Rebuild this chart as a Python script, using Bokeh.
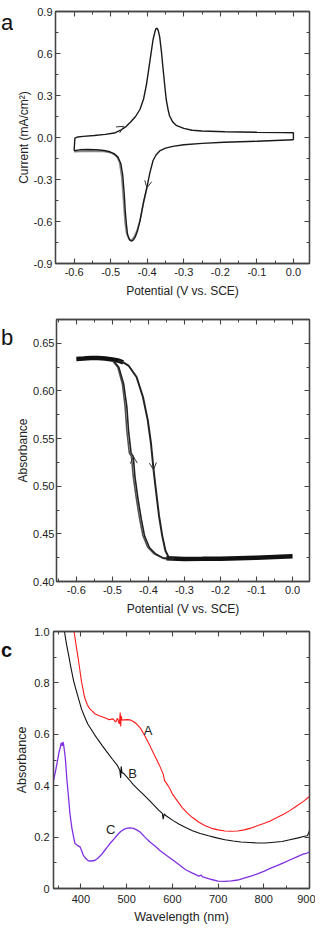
from bokeh.plotting import figure
from bokeh.layouts import column, row
from bokeh.models import (LinearAxis, FixedTicker, Arrow, OpenHead, Range1d,
                          PrintfTickFormatter, CustomLabelingPolicy)
from bokeh.core.properties import value
from bokeh.embed import file_html
from bokeh.resources import INLINE

# ---------------- data: panel a (cyclic voltammogram) ----------------
cv_fwd_x = [-0.600, -0.598, -0.590, -0.575, -0.545, -0.515, -0.490, -0.473, -0.458, -0.446, -0.432,
            -0.420, -0.410, -0.402, -0.393, -0.384, -0.379, -0.376, -0.373, -0.370, -0.366, -0.361,
            -0.357, -0.352, -0.348, -0.343, -0.339, -0.330, -0.321, -0.300, -0.277, -0.250, -0.187,
            -0.100, -0.030, 0.000, 0.000]
cv_fwd_y = [-0.095, -0.004, 0.004, 0.008, 0.014, 0.022, 0.032, 0.052, 0.078, 0.109, 0.150,
            0.200, 0.275, 0.380, 0.540, 0.700, 0.755, 0.778, 0.780, 0.765, 0.720, 0.610,
            0.500, 0.370, 0.270, 0.200, 0.155, 0.110, 0.087, 0.065, 0.052, 0.046, 0.041,
            0.037, 0.035, 0.034, -0.016]
cv_rev_x = [0.000, -0.100, -0.190, -0.250, -0.300, -0.330, -0.350, -0.366, -0.376, -0.384, -0.393,
            -0.400, -0.410, -0.420, -0.427, -0.433, -0.439, -0.444, -0.449, -0.454, -0.457, -0.460,
            -0.463, -0.467, -0.472, -0.480, -0.491, -0.505, -0.518, -0.540, -0.563, -0.585, -0.600]
cv_rev_y = [-0.016, -0.027, -0.034, -0.042, -0.052, -0.063, -0.076, -0.096, -0.125, -0.164, -0.255,
            -0.346, -0.460, -0.597, -0.670, -0.712, -0.735, -0.740, -0.728, -0.690, -0.620, -0.530,
            -0.400, -0.270, -0.190, -0.140, -0.115, -0.100, -0.093, -0.088, -0.086, -0.088, -0.095]
cv2_x = [-0.400, -0.410, -0.420, -0.428, -0.435, -0.441, -0.447, -0.452, -0.457, -0.461, -0.465,
         -0.470, -0.476, -0.485, -0.500, -0.520, -0.550, -0.580, -0.600]
cv2_y = [-0.350, -0.465, -0.595, -0.665, -0.705, -0.728, -0.732, -0.715, -0.680, -0.600, -0.450,
         -0.280, -0.175, -0.130, -0.108, -0.100, -0.097, -0.099, -0.102]
a_arrow_x0 = [-0.478, -0.393]
a_arrow_y0 = [0.058, -0.255]
a_arrow_x1 = [-0.464, -0.401]
a_arrow_y1 = [0.080, -0.360]

# ---------------- data: panel b (absorbance vs potential) ----------------
b_plateau_x = [-0.600, -0.580, -0.560, -0.540, -0.520, -0.500, -0.485, -0.470]
b_plateau_y = [0.6336, 0.6340, 0.6345, 0.6345, 0.6340, 0.6330, 0.6320, 0.6300]
b_base_x = [-0.350, -0.300, -0.250, -0.200, -0.150, -0.100, -0.050, 0.000]
b_base_y = [0.4245, 0.4237, 0.4238, 0.4240, 0.4245, 0.4250, 0.4258, 0.4265]
b_fwd_x = [-0.485, -0.470, -0.4553, -0.4329, -0.4151, -0.4018, -0.3929, -0.3857, -0.3793,
           -0.3705, -0.3616, -0.3527, -0.3437, -0.3300]
b_fwd_y = [0.6320, 0.6300, 0.6267, 0.6146, 0.5937, 0.5694, 0.5451, 0.5173, 0.4965,
           0.4688, 0.4479, 0.4323, 0.4253, 0.4240]
b_rev1_x = [-0.330, -0.357, -0.3795, -0.3973, -0.4107, -0.4196, -0.4286, -0.4375, -0.4420,
            -0.4481, -0.4553, -0.4598, -0.4688, -0.4821, -0.4950]
b_rev1_y = [0.4240, 0.4243, 0.4288, 0.4357, 0.4479, 0.4652, 0.4860, 0.5104, 0.5313,
            0.5347, 0.5590, 0.5833, 0.6076, 0.6250, 0.6310]
b_rev2_x = [-0.330, -0.360, -0.3840, -0.4020, -0.4150, -0.4240, -0.4330, -0.4420, -0.4470,
            -0.4530, -0.4600, -0.4645, -0.4720, -0.4850, -0.4980]
b_rev2_y = [0.4240, 0.4245, 0.4290, 0.4360, 0.4480, 0.4650, 0.4860, 0.5100, 0.5310,
            0.5350, 0.5590, 0.5830, 0.6070, 0.6250, 0.6310]
b_arrow_x0 = [-0.3929, -0.4375]
b_arrow_y0 = [0.5451, 0.5104]
b_arrow_x1 = [-0.3857, -0.4420]
b_arrow_y1 = [0.5173, 0.5313]

# ---------------- data: panel c (spectra) ----------------
c_A_x = [385, 390, 394, 401, 408, 414, 419, 425, 430, 440, 451, 462, 470, 476, 480, 484, 486, 487,
         488, 490, 494, 501, 508, 515, 522, 530, 537, 544, 551, 558, 565, 572, 580, 583, 587, 594,
         601, 612, 622, 633, 644, 658, 672, 686, 700, 715, 729, 743, 757, 772, 786, 800, 814, 829,
         843, 857, 871, 886, 900]
c_A_y = [1.000, 0.940, 0.896, 0.808, 0.744, 0.715, 0.700, 0.690, 0.680, 0.672, 0.665, 0.657, 0.660,
         0.648, 0.662, 0.640, 0.685, 0.630, 0.672, 0.655, 0.656, 0.657, 0.656, 0.650, 0.640, 0.624,
         0.603, 0.580, 0.555, 0.529, 0.504, 0.478, 0.445, 0.420, 0.410, 0.390, 0.365, 0.338, 0.314,
         0.293, 0.276, 0.258, 0.244, 0.234, 0.228, 0.224, 0.223, 0.224, 0.228, 0.235, 0.244, 0.253,
         0.263, 0.276, 0.289, 0.303, 0.320, 0.338, 0.358]
c_B_x = [364, 368, 373, 378, 384, 389, 394, 401, 408, 415, 423, 430, 437, 447, 458, 469, 480, 485,
         487, 488, 490, 494, 505, 515, 526, 537, 548, 558, 570, 578, 580, 582, 587, 601, 615, 629,
         644, 661, 679, 697, 715, 733, 750, 768, 786, 804, 822, 840, 857, 873, 889, 895, 898, 900]
c_B_y = [1.000, 0.955, 0.909, 0.860, 0.808, 0.775, 0.744, 0.700, 0.668, 0.640, 0.618, 0.598, 0.580,
         0.555, 0.529, 0.503, 0.478, 0.460, 0.430, 0.475, 0.450, 0.447, 0.425, 0.403, 0.384, 0.365,
         0.346, 0.327, 0.305, 0.292, 0.270, 0.290, 0.282, 0.265, 0.250, 0.237, 0.225, 0.214, 0.205,
         0.197, 0.190, 0.185, 0.181, 0.179, 0.177, 0.177, 0.180, 0.183, 0.190, 0.196, 0.203, 0.205,
         0.215, 0.225]
c_C_x = [337, 340, 344, 348, 352, 355, 357, 359, 361, 362, 364, 366, 369, 373, 376, 380, 384, 387,
         392, 398, 402, 405, 410, 416, 422, 430, 437, 444, 451, 458, 465, 473, 480, 487, 494, 501,
         508, 515, 522, 530, 540, 551, 562, 572, 586, 601, 615, 629, 644, 658, 663, 666, 672, 686,
         700, 715, 729, 743, 757, 772, 786, 800, 814, 829, 843, 857, 871, 886, 895, 900]
c_C_y = [0.380, 0.420, 0.453, 0.490, 0.530, 0.550, 0.567, 0.555, 0.570, 0.561, 0.535, 0.504, 0.430,
         0.352, 0.290, 0.238, 0.200, 0.175, 0.168, 0.162, 0.145, 0.130, 0.118, 0.108, 0.107, 0.109,
         0.118, 0.130, 0.146, 0.162, 0.178, 0.194, 0.209, 0.222, 0.230, 0.235, 0.236, 0.234, 0.228,
         0.219, 0.200, 0.181, 0.165, 0.149, 0.130, 0.111, 0.092, 0.073, 0.060, 0.048, 0.052, 0.045,
         0.042, 0.035, 0.029, 0.028, 0.030, 0.033, 0.040, 0.048, 0.057, 0.067, 0.078, 0.089, 0.100,
         0.111, 0.122, 0.134, 0.138, 0.143]
c_label_text = ["A", "B", "C"]
c_label_x = [547, 513, 465]
c_label_y = [0.614, 0.447, 0.228]
panel_letters = ["a", "b", "c"]

# ---------------- ticks ----------------
pot_ticks = [-0.6, -0.5, -0.4, -0.3, -0.2, -0.1, 0.0]
pot_minor = [-0.65, -0.55, -0.45, -0.35, -0.25, -0.15, -0.05, 0.05]
cur_ticks = [-0.9, -0.6, -0.3, 0.0, 0.3, 0.6, 0.9]
cur_minor = [-0.75, -0.45, -0.15, 0.15, 0.45, 0.75]
abs_b_ticks = [0.40, 0.45, 0.50, 0.55, 0.60, 0.65]
abs_b_minor = [0.425, 0.475, 0.525, 0.575, 0.625, 0.675]
wl_ticks = [400, 500, 600, 700, 800, 900]
wl_minor = [350, 450, 550, 650, 750, 850]
abs_c_ticks = [0.0, 0.2, 0.4, 0.6, 0.8, 1.0]
abs_c_minor = [0.1, 0.3, 0.5, 0.7, 0.9]

FONT = "Liberation Sans"
AXC = "#444444"
TXT = "#222222"


def style_axis(ax, ticks, minor, labels=True, fmt=None, overrides=None, label_standoff=3):
    ax.ticker = FixedTicker(ticks=ticks, minor_ticks=minor)
    ax.axis_line_color = AXC
    ax.axis_line_width = 1.3
    ax.major_tick_line_color = AXC
    ax.minor_tick_line_color = AXC
    ax.major_tick_line_width = 1.1
    ax.minor_tick_line_width = 1.0
    ax.major_tick_in = 5
    ax.major_tick_out = 0
    ax.minor_tick_in = 3
    ax.minor_tick_out = 0
    ax.axis_label_text_font = FONT
    ax.axis_label_text_font_style = "normal"
    ax.axis_label_text_color = TXT
    ax.major_label_text_font = FONT
    ax.major_label_text_color = TXT
    ax.major_label_text_font_size = "11px"
    if labels:
        ax.major_label_standoff = label_standoff
        if fmt is not None:
            ax.formatter = PrintfTickFormatter(format=fmt)
        if overrides:
            ax.major_label_overrides = overrides
    else:
        # frame-only axis: short placeholder labels that the policy filters out
        ax.major_label_standoff = 0
        ax.major_label_overrides = {t: "." for t in ticks}
        ax.major_label_policy = CustomLabelingPolicy(code="return new Set()")


def make_fig(width, height, xr, yr, left, top, bottom):
    p = figure(width=width, height=height, x_range=Range1d(*xr), y_range=Range1d(*yr),
               output_backend="svg", toolbar_location=None,
               min_border_left=left, min_border_right=2, min_border_top=top,
               min_border_bottom=bottom)
    p.xgrid.visible = False
    p.ygrid.visible = False
    p.outline_line_color = AXC
    p.outline_line_width = 1.3
    p.background_fill_color = "white"
    p.border_fill_color = "white"
    return p


def add_frame_axes(p, xt, xm, yt, ym):
    top = LinearAxis()
    right = LinearAxis()
    style_axis(top, xt, xm, labels=False)
    style_axis(right, yt, ym, labels=False)
    p.add_layout(top, "above")
    p.add_layout(right, "right")


def add_arrows(p, x0, y0, x1, y1, color):
    for i in range(len(x0)):
        p.add_layout(Arrow(end=OpenHead(size=7, line_width=1.0, line_color=color),
                           x_start=x0[i], y_start=y0[i], x_end=x1[i], y_end=y1[i],
                           line_alpha=0))


def letter_fig(width, height, letter, baseline_from_top, size, bold=False):
    f = figure(width=width, height=height, x_range=Range1d(0, width), y_range=Range1d(0, height),
               output_backend="svg", toolbar_location=None, x_axis_type=None, y_axis_type=None,
               min_border=0, outline_line_color=None)
    f.xgrid.visible = False
    f.ygrid.visible = False
    f.background_fill_color = "white"
    f.border_fill_color = "white"
    f.text(x=[0.5], y=[height - baseline_from_top], text=[letter], text_font=value(FONT),
           text_font_size=size, text_font_style="bold" if bold else "normal",
           text_color="#111111", text_align="left", text_baseline="alphabetic")
    return f


# ---------------- panel a ----------------
LW_A = 13
pa = make_fig(315 - LW_A, 308, (-0.651, 0.044), (-0.9, 0.9), 49 - LW_A, 6, 45)
pa.line(cv2_x, cv2_y, line_color="#8a8a8a", line_width=1.6)
pa.line(cv_fwd_x, cv_fwd_y, line_color="#1a1a1a", line_width=1.4)
pa.line(cv_rev_x, cv_rev_y, line_color="#1a1a1a", line_width=1.4)
style_axis(pa.xaxis[0], pot_ticks, pot_minor, fmt="%.1f", label_standoff=4)
style_axis(pa.yaxis[0], cur_ticks, cur_minor, fmt="%.1f", label_standoff=3)
pa.xaxis.axis_label = "Potential (V vs. SCE)"
pa.yaxis.axis_label = "Current (mA/cm²)"
pa.xaxis.axis_label_text_font_size = "12px"
pa.yaxis.axis_label_text_font_size = "12px"
pa.xaxis.axis_label_standoff = 5
pa.yaxis.axis_label_standoff = 0
add_frame_axes(pa, pot_ticks, pot_minor, cur_ticks, cur_minor)
add_arrows(pa, a_arrow_x0, a_arrow_y0, a_arrow_x1, a_arrow_y1, "#333333")
la = letter_fig(LW_A, 308, panel_letters[0], 14, "22px")

# ---------------- panel b ----------------
LW_B = 13
pb = make_fig(315 - LW_B, 312, (-0.655, 0.047), (0.40, 0.675), 49 - LW_B, 9, 39)
pb.line(b_plateau_x, b_plateau_y, line_color="#111111", line_width=4.5)
pb.line(b_base_x, b_base_y, line_color="#111111", line_width=4.5)
pb.line(b_rev2_x, b_rev2_y, line_color="#555555", line_width=1.6)
pb.line(b_rev1_x, b_rev1_y, line_color="#222222", line_width=1.6)
pb.line(b_fwd_x, b_fwd_y, line_color="#222222", line_width=2.0)
style_axis(pb.xaxis[0], pot_ticks, pot_minor, fmt="%.1f", label_standoff=4)
style_axis(pb.yaxis[0], abs_b_ticks, abs_b_minor, fmt="%.2f", label_standoff=2)
pb.xaxis.axis_label = "Potential (V vs. SCE)"
pb.yaxis.axis_label = "Absorbance"
pb.xaxis.axis_label_text_font_size = "12px"
pb.yaxis.axis_label_text_font_size = "12px"
pb.xaxis.axis_label_standoff = 5
pb.yaxis.axis_label_standoff = 0
add_frame_axes(pb, pot_ticks, pot_minor, abs_b_ticks, abs_b_minor)
add_arrows(pb, b_arrow_x0, b_arrow_y0, b_arrow_x1, b_arrow_y1, "#333333")
lb = letter_fig(LW_B, 312, panel_letters[1], 21, "22px")

# ---------------- panel c ----------------
LW_C = 12
pc = make_fig(315 - LW_C, 306, (340, 900), (0.0, 1.0), 49 - LW_C, 9, 38)
pc.line(c_A_x, c_A_y, line_color="#ff1a1a", line_width=1.1)
pc.line(c_B_x, c_B_y, line_color="#111111", line_width=1.1)
pc.line(c_C_x, c_C_y, line_color="#8030e0", line_width=1.3)
pc.text(x=c_label_x, y=c_label_y, text=c_label_text, text_font=value(FONT),
        text_font_size="13px", text_color=TXT, text_align="center", text_baseline="middle")
style_axis(pc.xaxis[0], wl_ticks, wl_minor, fmt="%d", label_standoff=6)
style_axis(pc.yaxis[0], abs_c_ticks, abs_c_minor, fmt="%.1f", overrides={0: "0"}, label_standoff=4)
pc.xaxis.axis_label = "Wavelength (nm)"
pc.yaxis.axis_label = "Absorbance"
pc.xaxis.axis_label_text_font_size = "12.5px"
pc.yaxis.axis_label_text_font_size = "12.5px"
pc.xaxis.axis_label_standoff = 4
pc.yaxis.axis_label_standoff = 2
add_frame_axes(pc, wl_ticks, wl_minor, abs_c_ticks, abs_c_minor)
lc = letter_fig(LW_C, 306, panel_letters[2], 22, "20px", bold=True)

layout = column(row(la, pa, spacing=0), row(lb, pb, spacing=0), row(lc, pc, spacing=0), spacing=0)
open("out.html", "w").write(file_html(layout, INLINE))
